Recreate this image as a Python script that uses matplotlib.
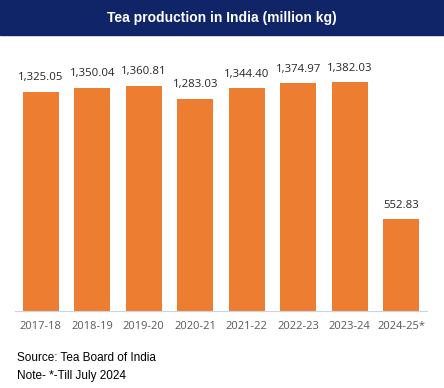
import matplotlib.pyplot as plt
import numpy as np

years = ["2017-18", "2018-19", "2019-20", "2020-21", "2021-22", "2022-23", "2023-24", "2024-25*"]
production = [1325.05, 1350.04, 1360.81, 1283.03, 1344.40, 1374.97, 1382.03, 552.83]

W, H = 444, 388
fig = plt.figure(figsize=(W / 100, H / 100), dpi=100)

# title banner
fig.patches.append(plt.Rectangle((0, 1 - 35 / H), 1, 35 / H, transform=fig.transFigure,
                                 color="#0f2568", zorder=0))
fig.text(0.5, 1 - 18 / H, "Tea production in India (million kg)", ha="center", va="center",
         color="white", fontsize=10, fontweight="bold", family="Liberation Sans")

ax = fig.add_axes([15 / W, 1 - 311 / H, 412 / W, 266 / H])
x = np.arange(len(years))
bars = ax.bar(x, production, width=0.7, color="#ed7d31")
ax.set_ylim(0, 1607)
ax.set_xlim(-0.5, len(years) - 0.5)

for xi, v in zip(x, production):
    ax.annotate(f"{v:,.2f}", (xi, v), xytext=(0, 6), textcoords="offset points",
                ha="center", va="bottom", fontsize=8.2, color="#262626", family="Open Sans")

ax.set_xticks(x)
ax.set_xticklabels(years, fontsize=8, color="#595959", family="Open Sans")
ax.tick_params(axis="x", length=0, pad=7)
ax.set_yticks([])
for s in ["top", "right", "left"]:
    ax.spines[s].set_visible(False)
ax.spines["bottom"].set_color("#c9d5e3")

fig.text(17 / W, 1 - 358 / H, "Source: Tea Board of India", fontsize=8.5, va="center",
         family="Liberation Sans")
fig.text(17 / W, 1 - 376 / H, "Note- *-Till July 2024", fontsize=8.5, va="center",
         family="Liberation Sans")

fig.savefig("out.png", dpi=100)
